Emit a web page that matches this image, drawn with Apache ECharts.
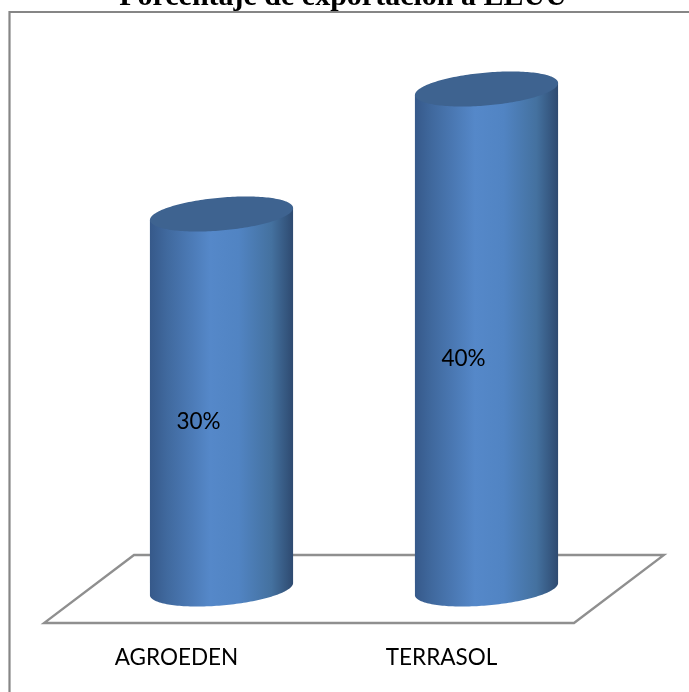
<!DOCTYPE html>
<html><head><meta charset="utf-8">
<style>html,body{margin:0;padding:0;background:#fff}#c{width:689px;height:692px}</style>
<script src="https://cdn.jsdelivr.net/npm/echarts@6/dist/echarts.min.js"></script>
</head><body><div id="c"></div>
<script>
const categories = ['AGROEDEN', 'TERRASOL'];
const values = [30, 40];
const chartTitle = 'Porcentaje de exportación a EEUU';

const DEPTH_X = 45, DEPTH_Y = -34;      // 3D offset of column axis from the floor's front edge
const BAR_RATIO = 0.54;
const TILT = -5.06 * Math.PI / 180, MINOR_RATIO = 16.4 / 71.5, MAJOR_RATIO = 71.8 / 71.5;

function ellipsePoint(cx, cy, a, b, t) {
  const x = a * Math.cos(t), y = b * Math.sin(t);
  return [cx + x * Math.cos(TILT) - y * Math.sin(TILT), cy + x * Math.sin(TILT) + y * Math.cos(TILT)];
}
function extremeAngle(a, b) { return Math.atan2(-b * Math.sin(TILT), a * Math.cos(TILT)); }

const bodyFill = new echarts.graphic.LinearGradient(0, 0, 1, 0, [
  {offset: 0, color: '#36598a'}, {offset: 0.12, color: '#40699e'}, {offset: 0.42, color: '#5588c9'},
  {offset: 0.62, color: '#5184c3'}, {offset: 0.85, color: '#44719f'}, {offset: 1, color: '#2e4a70'}]);

function renderFloor(params, api) {
  const cs = params.coordSys;
  const x0 = cs.x, x1 = cs.x + cs.width, y = cs.y + cs.height;
  return {type: 'polygon', shape: {points: [[x0, y], [x1, y], [x1 + 2 * DEPTH_X, y + 2 * DEPTH_Y], [x0 + 2 * DEPTH_X, y + 2 * DEPTH_Y]]},
    style: {fill: '#fff', stroke: '#8f8f8f', lineWidth: 2.3}};
}
function renderColumn(params, api) {
  const idx = api.value(0), val = api.value(1);
  const top = api.coord([idx, val]), base = api.coord([idx, 0]);
  const cx = top[0] + DEPTH_X, yT = top[1] + DEPTH_Y, yB = base[1] + DEPTH_Y;
  const rx = api.size([1, 0])[0] * BAR_RATIO / 2;
  const a = rx * MAJOR_RATIO, b = rx * MINOR_RATIO;
  const t0 = extremeAngle(a, b);
  const body = [], lid = [];
  const N = 90;
  for (let i = 0; i <= N; i++) body.push(ellipsePoint(cx, yB, a, b, t0 + Math.PI * i / N));
  body.push(ellipsePoint(cx, yT, a, b, t0 + Math.PI));
  body.push(ellipsePoint(cx, yT, a, b, t0));
  for (let i = 0; i < 2 * N; i++) lid.push(ellipsePoint(cx, yT, a, b, Math.PI * i / N));
  return {type: 'group', children: [
    {type: 'polygon', shape: {points: body}, style: {fill: bodyFill}},
    {type: 'polygon', shape: {points: lid}, style: {fill: '#3e6390'}},
    {type: 'text', x: cx - 23, y: (yT + yB) / 2 + 20,
      style: {text: val + '%', fill: '#000', font: '22.5px Lato', align: 'center', verticalAlign: 'middle'}}
  ]};
}

const chart = echarts.init(document.getElementById('c'), null, {renderer: 'canvas'});
chart.setOption({
  animation: false,
  backgroundColor: '#fff',
  graphic: [
    {type: 'rect', z: -1, silent: true, shape: {x: 9.5, y: 12, width: 800, height: 800}, style: {fill: '#fff', stroke: '#868686', lineWidth: 2.2}},
    {type: 'text', z: 5, x: 343, y: 12, style: {text: chartTitle, fill: '#000', font: 'bold 30px "Liberation Serif"', align: 'center', verticalAlign: 'bottom'}}
  ],
  grid: {left: 44, width: 530, top: 123, height: 500},
  xAxis: {type: 'category', data: categories, axisLine: {show: false}, axisTick: {show: false},
    axisLabel: {margin: 23, color: '#000', fontFamily: 'Lato', fontSize: 22.5}},
  yAxis: {type: 'value', min: 0, max: 40, show: false, splitLine: {show: false}},
  series: [
    {type: 'custom', renderItem: renderFloor, data: [[0, 0]], silent: true, clip: false},
    {type: 'custom', renderItem: renderColumn, data: values.map((v, i) => [i, v]), silent: true, clip: false}
  ]
});
</script></body></html>
